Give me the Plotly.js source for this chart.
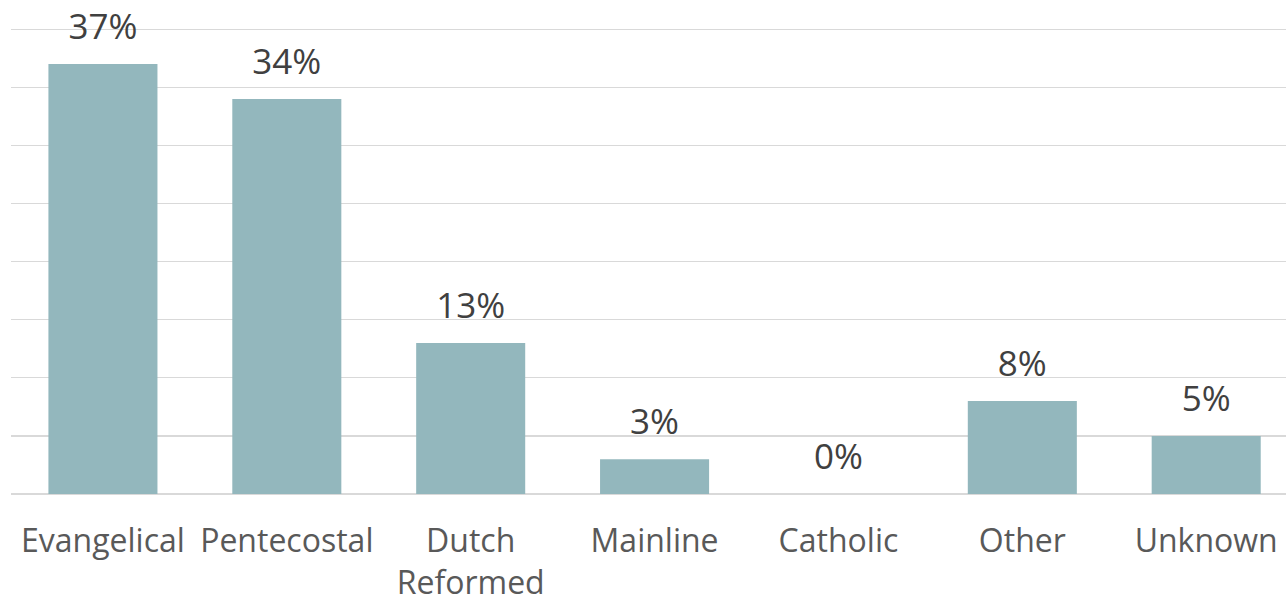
<!DOCTYPE html>
<html>
<head>
<meta charset="utf-8">
<script src="https://cdn.plot.ly/plotly-3.0.1.min.js"></script>
<style>html,body{margin:0;padding:0;background:#fff;overflow:hidden}#chart{width:1286px;height:601px}</style>
</head>
<body>
<div id="chart"></div>
<script>
const categories = ["Evangelical", "Pentecostal", "Dutch<br>Reformed", "Mainline", "Catholic", "Other", "Unknown"];
const values = [37, 34, 13, 3, 0, 8, 5];
const labels = values.map(v => v + "%");

const barTrace = {
  type: "bar",
  x: categories,
  y: values,
  marker: {color: "#93B7BD"},
  hoverinfo: "skip"
};
const textTrace = {
  type: "scatter",
  mode: "markers+text",
  x: categories,
  y: values,
  text: labels,
  textposition: "top center",
  textfont: {family: "Open Sans", size: 35, color: "#404040"},
  marker: {size: 24, color: "rgba(0,0,0,0)"},
  cliponaxis: false,
  hoverinfo: "skip",
  showlegend: false
};

const layout = {
  width: 1286,
  height: 601,
  margin: {l: 11, r: 0, t: 28, b: 107},
  paper_bgcolor: "#ffffff",
  plot_bgcolor: "#ffffff",
  showlegend: false,
  bargap: 0.407,
  hovermode: false,
  xaxis: {
    type: "category",
    range: [-0.5, 6.434],
    showgrid: false,
    showline: false,
    zeroline: false,
    ticks: "outside",
    ticklen: 19,
    tickcolor: "rgba(0,0,0,0)",
    tickfont: {family: "Open Sans", size: 32, color: "#595959"},
    fixedrange: true
  },
  yaxis: {
    range: [0, 40.1],
    tickvals: [0, 5, 10, 15, 20, 25, 30, 35, 40],
    showticklabels: false,
    showgrid: true,
    gridcolor: "#d9d9d9",
    gridwidth: 1.3,
    zeroline: true,
    zerolinecolor: "#d9d9d9",
    zerolinewidth: 1.3,
    fixedrange: true
  }
};

Plotly.newPlot("chart", [barTrace, textTrace], layout, {displayModeBar: false, staticPlot: true});
</script>
</body>
</html>
